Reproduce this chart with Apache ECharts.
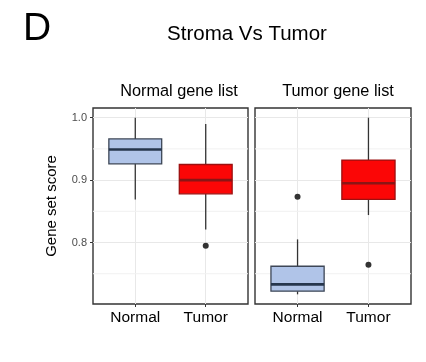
<!DOCTYPE html>
<html><head><meta charset="utf-8">
<script src="https://cdn.jsdelivr.net/npm/echarts@6/dist/echarts.min.js"></script>
<style>html,body{margin:0;padding:0;background:#fff}#c{width:426px;height:362px}</style>
</head><body><div id="c"></div>
<script>
// ---- data ----
const categories = ['Normal', 'Tumor'];
const panelTitles = ['Normal gene list', 'Tumor gene list'];
// [lowerWhisker, Q1, median, Q3, upperWhisker]
const normalList_Normal = [0.869, 0.926, 0.949, 0.966, 1.000];
const normalList_Tumor  = [0.821, 0.878, 0.900, 0.925, 0.990];
const tumorList_Normal  = [0.717, 0.722, 0.733, 0.762, 0.805];
const tumorList_Tumor   = [0.844, 0.869, 0.895, 0.932, 1.000];
const normalList_outliers = [[2, 0.795]];
const tumorList_outliers  = [[1, 0.8735], [2, 0.7645]];
const yTickLabels = [0.8, 0.9, 1.0];
const yMinorGrid = [0.75, 0.85, 0.95];

const fills = { Normal: '#b0c4e8', Tumor: '#fb0606' };
const outlines = { Normal: '#3d4656', Tumor: '#9c1010' };
const medians = { Normal: '#26364d', Tumor: '#8a1515' };

const chart = echarts.init(document.getElementById('c'), null, { renderer: 'canvas' });
const font = '"Liberation Sans", Arial, Helvetica, sans-serif';

function boxData(a, b) {
  return [[1].concat(a), [2].concat(b)];
}
function renderBox(params, api) {
  const x = api.value(0);
  const cat = categories[x - 1];
  const lo = api.coord([x, api.value(1)]);
  const q1 = api.coord([x, api.value(2)]);
  const md = api.coord([x, api.value(3)]);
  const q3 = api.coord([x, api.value(4)]);
  const hi = api.coord([x, api.value(5)]);
  const w = api.size([0.75, 0])[0];
  const cx = lo[0];
  return {
    type: 'group',
    children: [
      { type: 'line', shape: { x1: cx, y1: hi[1], x2: cx, y2: q3[1] }, style: { stroke: '#333', lineWidth: 1.3 } },
      { type: 'line', shape: { x1: cx, y1: q1[1], x2: cx, y2: lo[1] }, style: { stroke: '#333', lineWidth: 1.3 } },
      { type: 'rect', shape: { x: cx - w / 2, y: q3[1], width: w, height: q1[1] - q3[1] },
        style: { fill: fills[cat], stroke: outlines[cat], lineWidth: 1.3 } },
      { type: 'line', shape: { x1: cx - w / 2, y1: md[1], x2: cx + w / 2, y2: md[1] }, style: { stroke: medians[cat], lineWidth: 2.6 } }
    ]
  };
}
function renderMinor(params, api) {
  const cs = params.coordSys;
  const y = api.coord([1, api.value(0)])[1];
  return { type: 'line', shape: { x1: cs.x, y1: y, x2: cs.x + cs.width, y2: y }, style: { stroke: '#f1f1f1', lineWidth: 1 }, silent: true };
}

const grids = [
  { left: 93, top: 108, width: 155, height: 196 },
  { left: 255, top: 108, width: 156, height: 196 }
];

function xAxis(i) {
  return {
    type: 'value', gridIndex: i, min: 0.4, max: 2.6,
    axisLine: { show: false },
    axisTick: { show: true, customValues: [1, 2], length: 3, lineStyle: { color: '#333' } },
    axisLabel: { customValues: [1, 2], formatter: v => categories[Math.round(v) - 1],
      color: '#000', fontSize: 15.5, fontFamily: font, margin: 6 },
    splitLine: { show: true, lineStyle: { color: '#e8e8e8', width: 1 } }
  };
}
function yAxis(i) {
  return {
    type: 'value', gridIndex: i, min: 0.7015, max: 1.0155,
    name: i === 0 ? 'Gene set score' : '', nameLocation: 'middle', nameGap: 34,
    nameTextStyle: { fontSize: 15, fontFamily: font, color: '#000' },
    axisLine: { show: false },
    axisTick: { show: i === 0, customValues: yTickLabels, length: 3, lineStyle: { color: '#333' } },
    axisLabel: { show: i === 0, customValues: yTickLabels, formatter: v => v.toFixed(1),
      color: '#4d4d4d', fontSize: 11, fontFamily: font, margin: 6 },
    splitLine: { show: true, lineStyle: { color: '#e8e8e8', width: 1 } }
  };
}

chart.setOption({
  animation: false,
  backgroundColor: '#fff',
  title: [
    { text: 'D', left: 18, top: 5, textStyle: { fontSize: 39, fontWeight: 'normal', fontFamily: font, color: '#000' } },
    { text: 'Stroma Vs Tumor', left: 242, top: 19, textAlign: 'center', textStyle: { fontSize: 20.5, fontWeight: 'normal', fontFamily: font, color: '#000' } },
    { text: panelTitles[0], left: 174, top: 79, textAlign: 'center', textStyle: { fontSize: 16.3, fontWeight: 'normal', fontFamily: font, color: '#000' } },
    { text: panelTitles[1], left: 333, top: 79, textAlign: 'center', textStyle: { fontSize: 16.3, fontWeight: 'normal', fontFamily: font, color: '#000' } }
  ],
  grid: grids.map(g => Object.assign({ show: true, borderColor: '#333', borderWidth: 1.4, backgroundColor: 'transparent' }, g)),
  xAxis: [xAxis(0), xAxis(1)],
  yAxis: [yAxis(0), yAxis(1)],
  series: [
    { type: 'custom', xAxisIndex: 0, yAxisIndex: 0, renderItem: renderMinor, data: yMinorGrid.map(v => [v]), z: 0, silent: true },
    { type: 'custom', xAxisIndex: 1, yAxisIndex: 1, renderItem: renderMinor, data: yMinorGrid.map(v => [v]), z: 0, silent: true },
    { type: 'custom', xAxisIndex: 0, yAxisIndex: 0, renderItem: renderBox, data: boxData(normalList_Normal, normalList_Tumor), z: 3 },
    { type: 'custom', xAxisIndex: 1, yAxisIndex: 1, renderItem: renderBox, data: boxData(tumorList_Normal, tumorList_Tumor), z: 3 },
    { type: 'scatter', xAxisIndex: 0, yAxisIndex: 0, data: normalList_outliers, symbolSize: 6, itemStyle: { color: '#333', opacity: 1 }, z: 4 },
    { type: 'scatter', xAxisIndex: 1, yAxisIndex: 1, data: tumorList_outliers, symbolSize: 6, itemStyle: { color: '#333', opacity: 1 }, z: 4 }
  ]
});
</script>
</body></html>
